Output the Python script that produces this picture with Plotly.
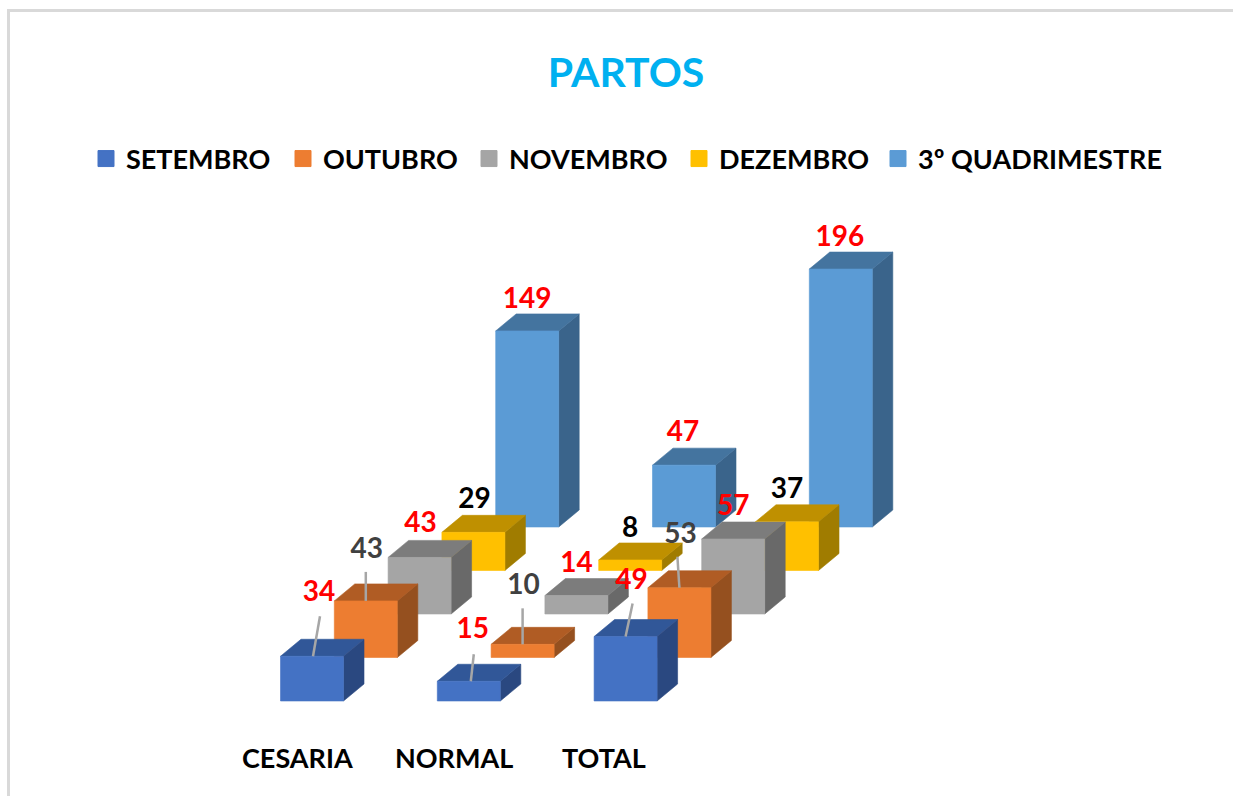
import plotly.graph_objects as go

# ---- data ----
categories = ["CESARIA", "NORMAL", "TOTAL"]
series_names = ["SETEMBRO", "OUTUBRO", "NOVEMBRO", "DEZEMBRO", "3º QUADRIMESTRE"]
setembro = [34, 15, 49]
outubro = [43, 10, 53]
novembro = [43, 14, 57]
dezembro = [29, 8, 37]
quadrimestre = [149, 47, 196]
title_text = "PARTOS"

# ---- styles / geometry ----
series_values = [setembro, outubro, novembro, dezembro, quadrimestre]
front = ["#4472C4", "#ED7D31", "#A5A5A5", "#FFC000", "#5B9BD5"]
top_c = ["#315798", "#B05C24", "#7C7C7C", "#BF9000", "#44749F"]
side_c = ["#2A4880", "#95501F", "#696969", "#A07C00", "#3A648B"]
label_c = ["#FF0000", "#404040", "#FF0000", "#000000", "#FF0000"]

W, H = 1233, 796
PX_PER_UNIT = 1.316
BASE_PX = 701.0
X0 = 280.5
CAT_STEP = 156.8
SER_DX, SER_DY = 53.8, 43.5
BAR_W, DEPTH_X, DEPTH_Y = 63.0, 20.5, 17.0
FONT = "Lato"


def u(px):  # pixel height -> value units
    return px / PX_PER_UNIT


# label offsets from the bar's front-top centre (px: right, up)
label_off = [
    [(7, 62), (4, 50), (6, 55)],
    [(1, 50), (1, 57), (1, 52)],
    [(1, 32), (0, 31), (0, 31)],
    [(1, 31), (0, 30), (0, 31)],
    [(0, 30), (-1, 31), (-1, 30)],
]
# leader lines: start offset from the same point, end offset (blue & orange only)
leader_off = {
    0: [((1, 0), (8, 40)), ((2, 0), (5, 27)), ((0, 0), (7, 33))],
    1: [((0, 0), (0, 29)), ((0, 0), (0, 36)), ((0, 0), (-2, 31))],
}

fig = go.Figure()


def box(i, j, v):
    x0 = X0 + j * CAT_STEP + i * SER_DX
    y0 = u(i * SER_DY)
    return x0, y0, y0 + v


for i in reversed(range(5)):
    fx, fy, tx, ty, sx, sy = [], [], [], [], [], []
    for j, v in enumerate(series_values[i]):
        x0, y0, y1 = box(i, j, v)
        x1 = x0 + BAR_W
        dx, dy = DEPTH_X, u(DEPTH_Y)
        fx += [x0, x1, x1, x0, x0, None]
        fy += [y0, y0, y1, y1, y0, None]
        tx += [x0, x1, x1 + dx, x0 + dx, x0, None]
        ty += [y1, y1, y1 + dy, y1 + dy, y1, None]
        sx += [x1, x1 + dx, x1 + dx, x1, x1, None]
        sy += [y0, y0 + dy, y1 + dy, y1, y0, None]
    for xs, ys, col in ((sx, sy, side_c[i]), (tx, ty, top_c[i]), (fx, fy, front[i])):
        fig.add_trace(go.Scatter(x=xs, y=ys, mode="lines", fill="toself", fillcolor=col,
                                 line=dict(width=0.6, color=col), showlegend=False,
                                 hoverinfo="skip"))

# leader lines
lx, ly = [], []
for i, items in leader_off.items():
    for j, ((a, b), (c, d)) in enumerate(items):
        x0, _, y1 = box(i, j, series_values[i][j])
        cx = x0 + BAR_W / 2
        lx += [cx + a, cx + c, None]
        ly += [y1 + u(b), y1 + u(d), None]
fig.add_trace(go.Scatter(x=lx, y=ly, mode="lines", line=dict(color="#A6A6A6", width=2.5),
                         showlegend=False, hoverinfo="skip"))

# data labels
for i in range(5):
    xs, ys = [], []
    for j, v in enumerate(series_values[i]):
        x0, _, y1 = box(i, j, v)
        xs.append(x0 + BAR_W / 2 + label_off[i][j][0])
        ys.append(y1 + u(label_off[i][j][1]))
    fig.add_trace(go.Scatter(x=xs, y=ys, mode="text", text=[str(v) for v in series_values[i]],
                             textposition="middle center",
                             textfont=dict(family=FONT, size=28, color=label_c[i], weight=700),
                             showlegend=False, hoverinfo="skip"))

# legends: one per series so each entry sits where the reference has it
legend_px = [86, 283, 469, 679, 878]
legend_layout = {}
for i, name in enumerate(series_names):
    key = "legend" if i == 0 else f"legend{i + 1}"
    fig.add_trace(go.Scatter(x=[None], y=[None], mode="markers", name=name, legend=key,
                             marker=dict(symbol="square", size=16, color=front[i],
                                         line=dict(width=1, color=front[i]))))
    legend_layout[key] = dict(x=legend_px[i] / W, y=1 - 159 / H, xanchor="left", yanchor="middle",
                              bgcolor="rgba(0,0,0,0)", borderwidth=0,
                              font=dict(family=FONT, size=27, color="#000000", weight=700))

# category labels
cat_px = [297, 454, 604]
cat_y_px = 757
annotations = [dict(text=c, x=cat_px[k], y=-(cat_y_px - BASE_PX) / PX_PER_UNIT, xref="x", yref="y",
                    showarrow=False, xanchor="center", yanchor="middle",
                    font=dict(family=FONT, size=27, color="#000000", weight=700))
               for k, c in enumerate(categories)]

fig.update_layout(
    width=W, height=H, autosize=False,
    margin=dict(l=0, r=0, t=0, b=0),
    paper_bgcolor="white", plot_bgcolor="white",
    title=dict(text=title_text, x=626 / W, xanchor="center", y=1 - 73 / H, yanchor="middle",
               font=dict(family=FONT, size=41, color="#00B0F0", weight=700)),
    xaxis=dict(range=[0, W], visible=False, fixedrange=True),
    yaxis=dict(range=[-(H - BASE_PX) / PX_PER_UNIT, BASE_PX / PX_PER_UNIT], visible=False, fixedrange=True),
    annotations=annotations,
    shapes=[
        dict(type="line", xref="paper", yref="paper", x0=8.5 / W, x1=8.5 / W, y0=0, y1=1 - 9 / H,
             line=dict(color="#D9D9D9", width=3)),
        dict(type="line", xref="paper", yref="paper", x0=7 / W, x1=1, y0=1 - 10.5 / H, y1=1 - 10.5 / H,
             line=dict(color="#D9D9D9", width=3)),
    ],
    **legend_layout,
)

fig.write_html("out.html", config={"displayModeBar": False},
               post_script="document.body.style.margin='0';document.body.style.overflow='hidden';")
